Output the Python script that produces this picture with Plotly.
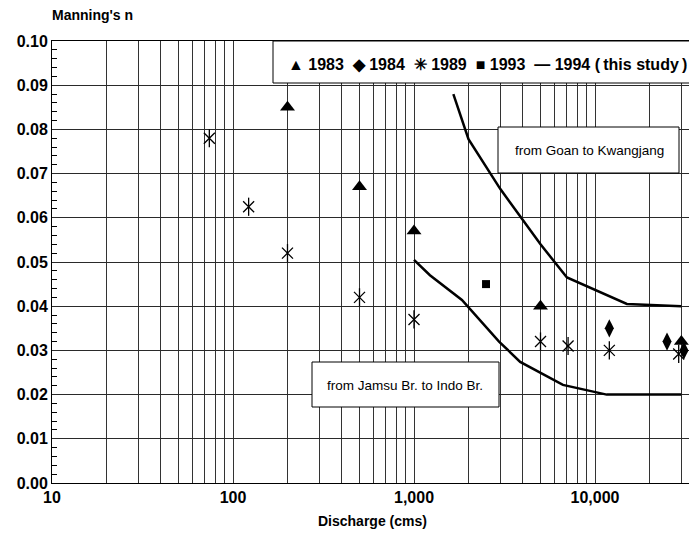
import plotly.graph_objects as go

# ---- data ----
q1983 = [200, 500, 1000, 5000, 30000]
n1983 = [0.085, 0.067, 0.057, 0.040, 0.032]

q1984 = [12000, 25000, 31000]
n1984 = [0.035, 0.032, 0.030]

q1989 = [74, 122, 200, 500, 1000, 5000, 7100, 12000, 29000]
n1989 = [0.078, 0.0625, 0.052, 0.042, 0.037, 0.032, 0.031, 0.030, 0.0292]

q1993 = [2500]
n1993 = [0.045]

q1994_goan = [1650, 2000, 3000, 5000, 7000, 15000, 30000]
n1994_goan = [0.088, 0.0778, 0.0665, 0.054, 0.0465, 0.0405, 0.040]

q1994_jamsu = [1000, 1225, 1840, 2950, 3860, 6650, 11600, 30000]
n1994_jamsu = [0.0505, 0.047, 0.0414, 0.032, 0.0274, 0.0222, 0.020, 0.020]

decades = [10, 100, 1000, 10000]
x_tickvals = [m * d for d in decades for m in range(1, 10)]
x_ticktext = [("{:,}".format(m * d) if m == 1 else "") for d in decades for m in range(1, 10)]

legend_text = ("\u25B2 1983\u00a0 \u25C6 1984\u00a0 \u2733 1989\u00a0 "
               "\u25A0 1993\u00a0 \u2014 1994 (\u2009this study\u2009)")

FONT = "Liberation Sans, Arial, sans-serif"

fig = go.Figure()
fig.add_trace(go.Scatter(x=q1994_goan, y=n1994_goan, mode="lines",
                         line=dict(color="black", width=2.5), showlegend=False))
fig.add_trace(go.Scatter(x=q1994_jamsu, y=n1994_jamsu, mode="lines",
                         line=dict(color="black", width=2.5), showlegend=False))
fig.add_trace(go.Scatter(x=q1983, y=n1983, mode="markers",
                         marker=dict(symbol="triangle-up", size=13, color="black"), showlegend=False))
fig.add_trace(go.Scatter(x=q1984, y=n1984, mode="markers",
                         marker=dict(symbol="diamond-tall", size=13, color="black"), showlegend=False))
fig.add_trace(go.Scatter(x=q1989, y=n1989, mode="markers",
                         marker=dict(symbol="x-thin-open", size=11, color="black",
                                     line=dict(color="black", width=1.3)), showlegend=False))
fig.add_trace(go.Scatter(x=q1989, y=n1989, mode="markers",
                         marker=dict(symbol="line-ns-open", size=13, color="black",
                                     line=dict(color="black", width=1.3)), showlegend=False))
fig.add_trace(go.Scatter(x=q1993, y=n1993, mode="markers",
                         marker=dict(symbol="square", size=8, color="black"), showlegend=False))


def px2paper_x(px):
    return (px - 52) / 637.0


def px2paper_y(py):
    return 1 - (py - 41) / 442.0


shapes = []
for (x0, x1, y0, y1) in [(273, 720, 41, 83), (498, 679, 127, 173), (312, 499, 362, 407)]:
    shapes.append(dict(type="rect", xref="paper", yref="paper", layer="above",
                       x0=px2paper_x(x0), x1=px2paper_x(x1),
                       y0=px2paper_y(y1), y1=px2paper_y(y0),
                       line=dict(color="black", width=1), fillcolor="white"))

annotations = [
    dict(text="<b>" + legend_text + "</b>",
         xref="paper", yref="paper", x=px2paper_x(286), y=px2paper_y(64),
         xanchor="left", yanchor="middle", showarrow=False,
         font=dict(family=FONT, size=16, color="black")),
    dict(text="from Goan to Kwangjang", xref="paper", yref="paper",
         x=px2paper_x(589), y=px2paper_y(150), xanchor="center", yanchor="middle",
         showarrow=False, font=dict(family=FONT, size=13.5, color="black")),
    dict(text="from Jamsu Br. to Indo Br.", xref="paper", yref="paper",
         x=px2paper_x(405), y=px2paper_y(385), xanchor="center", yanchor="middle",
         showarrow=False, font=dict(family=FONT, size=13.5, color="black")),
    dict(text="<b>Manning's n</b>", xref="paper", yref="paper",
         x=px2paper_x(50), y=px2paper_y(15), xanchor="left", yanchor="middle",
         showarrow=False, font=dict(family=FONT, size=14, color="black")),
    dict(text="<b>Discharge (cms)</b>", xref="paper", yref="paper",
         x=px2paper_x(372), y=px2paper_y(521), xanchor="center", yanchor="middle",
         showarrow=False, font=dict(family=FONT, size=14, color="black")),
]

fig.update_layout(
    width=689, height=536,
    margin=dict(l=52, r=0, t=41, b=53),
    paper_bgcolor="white", plot_bgcolor="white",
    shapes=shapes, annotations=annotations,
    font=dict(family=FONT, color="black"),
    xaxis=dict(type="log", range=[1, 1 + 637 / 181.0],
               tickvals=x_tickvals, ticktext=x_ticktext,
               tickfont=dict(family=FONT, size=16, color="black", weight="bold"),
               showgrid=True, gridcolor="#333333", gridwidth=1,
               showline=True, linecolor="black", linewidth=1, mirror=True,
               ticks="", zeroline=False),
    yaxis=dict(range=[0, 0.1], dtick=0.01, tickformat=".2f",
               tickfont=dict(family=FONT, size=16, color="black", weight="bold"),
               showgrid=True, gridcolor="#2a2a2a", gridwidth=1,
               showline=True, linecolor="black", linewidth=1,
               ticks="", zeroline=False,
               minor=dict(dtick=0.002, ticks="inside", ticklen=5, tickcolor="black",
                          showgrid=False)),
)

fig.write_html("out.html")
